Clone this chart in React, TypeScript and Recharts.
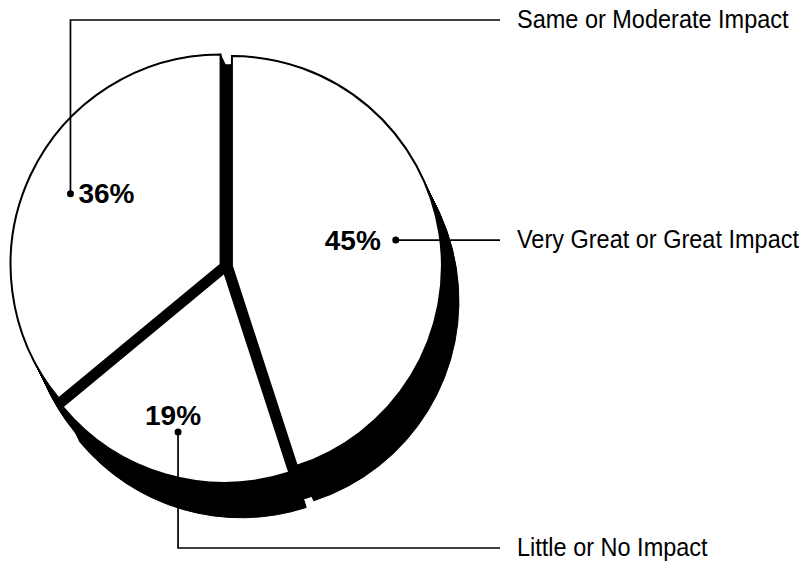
import { PieChart, Pie, Cell } from 'recharts'

const categories = ['Very Great or Great Impact', 'Little or No Impact', 'Same or Moderate Impact']
const shares = [45, 19, 36]
const shareLabels = ['45%', '19%', '36%']

const data = categories.map((name, i) => ({ name, value: shares[i] }))

const W = 806
const H = 562
const CX = 226
const CY = 267
const R = 210
const EXPLODE = 6
const DEPTH_X = 17
const DEPTH_Y = 35
const STEPS = 24
const LINE_END = 500
const TEXT_X = 517
const TOP_ROW = 20
const BOTTOM_ROW = 548
const RAD = Math.PI / 180

// slice mid angles, clockwise from 12 o'clock -> explode offsets
const total = shares.reduce((a, b) => a + b, 0)
const mids = shares.map((v, i) => {
  const before = shares.slice(0, i).reduce((a, b) => a + b, 0)
  return ((before + v / 2) / total) * 360
})
const offsets = mids.map((m) => ({ x: EXPLODE * Math.sin(m * RAD), y: -EXPLODE * Math.cos(m * RAD) }))

const pctFont = { fontFamily: "'Liberation Sans', Arial, sans-serif", fontWeight: 700, fontSize: 28 }
const catFont = { fontFamily: "'Liberation Sans', Arial, sans-serif", fontSize: 25 }

const renderLabel = (slice: number) => (props: any) => {
  if (props.index !== slice) return null
  const { cx, cy, midAngle, outerRadius } = props
  const r = outerRadius * 0.79
  const x = cx + r * Math.cos(-midAngle * RAD)
  const y = cy + r * Math.sin(-midAngle * RAD)
  let path = ''
  let pct = null
  let rowY = y
  if (slice === 0) {
    rowY = y
    path = `M${x},${y}H${LINE_END}`
    pct = <text x={x - 15} y={y + 10} textAnchor="end" {...pctFont}>{shareLabels[slice]}</text>
  } else if (slice === 1) {
    rowY = BOTTOM_ROW
    path = `M${x},${y}V${BOTTOM_ROW}H${LINE_END}`
    pct = <text x={x - 5} y={y - 7} textAnchor="middle" {...pctFont}>{shareLabels[slice]}</text>
  } else {
    rowY = TOP_ROW
    path = `M${x},${y}V${TOP_ROW}H${LINE_END}`
    pct = <text x={x + 8} y={y + 9} textAnchor="start" {...pctFont}>{shareLabels[slice]}</text>
  }
  return (
    <g>
      <path d={path} stroke="#000" strokeWidth={1.7} fill="none" />
      <circle cx={x} cy={y} r={3.5} fill="#000" />
      {pct}
      <text transform={`translate(${TEXT_X},${rowY + 8}) scale(0.94,1)`} fill="#000" {...catFont}>
        {categories[slice]}
      </text>
    </g>
  )
}

const steps = Array.from({ length: STEPS + 1 }, (_, k) => k / STEPS)
const bodySteps = steps.filter((t) => t >= 0.3)

export default function App() {
  return (
    <div style={{ position: 'absolute', left: 0, top: 0, width: W, height: H, background: '#fff' }}>
      <PieChart width={W} height={H} margin={{ top: 0, right: 0, bottom: 0, left: 0 }}>
        {/* body of the un-exploded pie, swept down-right */}
        {bodySteps.map((t) => (
          <Pie
            key={`b${t}`}
            data={data}
            dataKey="value"
            cx={CX + DEPTH_X * t}
            cy={CY + DEPTH_Y * t - 4}
            outerRadius={R}
            startAngle={90}
            endAngle={-270}
            isAnimationActive={false}
          >
            {data.map((_, j) => (
              <Cell key={j} fill="#000" stroke="#000" strokeWidth={1} />
            ))}
          </Pie>
        ))}
        {/* depth: each slice swept along the extrusion vector */}
        {offsets.map((o, i) =>
          steps.map((t) => (
            <Pie
              key={`d${i}-${t}`}
              data={data}
              dataKey="value"
              cx={CX + o.x + DEPTH_X * t}
              cy={CY + o.y + DEPTH_Y * t}
              outerRadius={R}
              startAngle={90}
              endAngle={-270}
              isAnimationActive={false}
            >
              {data.map((_, j) => (
                <Cell key={j} fill={j === i ? '#000' : 'none'} stroke={j === i ? '#000' : 'none'} strokeWidth={1} />
              ))}
            </Pie>
          ))
        )}
        {offsets.map((o, i) => (
          <Pie
            key={`t${i}`}
            data={data}
            dataKey="value"
            cx={CX + o.x}
            cy={CY + o.y}
            outerRadius={R}
            startAngle={90}
            endAngle={-270}
            isAnimationActive={false}
            labelLine={false}
            label={renderLabel(i)}
          >
            {data.map((_, j) => (
              <Cell key={j} fill={j === i ? '#fff' : 'none'} stroke={j === i ? '#000' : 'none'} strokeWidth={2} />
            ))}
          </Pie>
        ))}
      </PieChart>
    </div>
  )
}
